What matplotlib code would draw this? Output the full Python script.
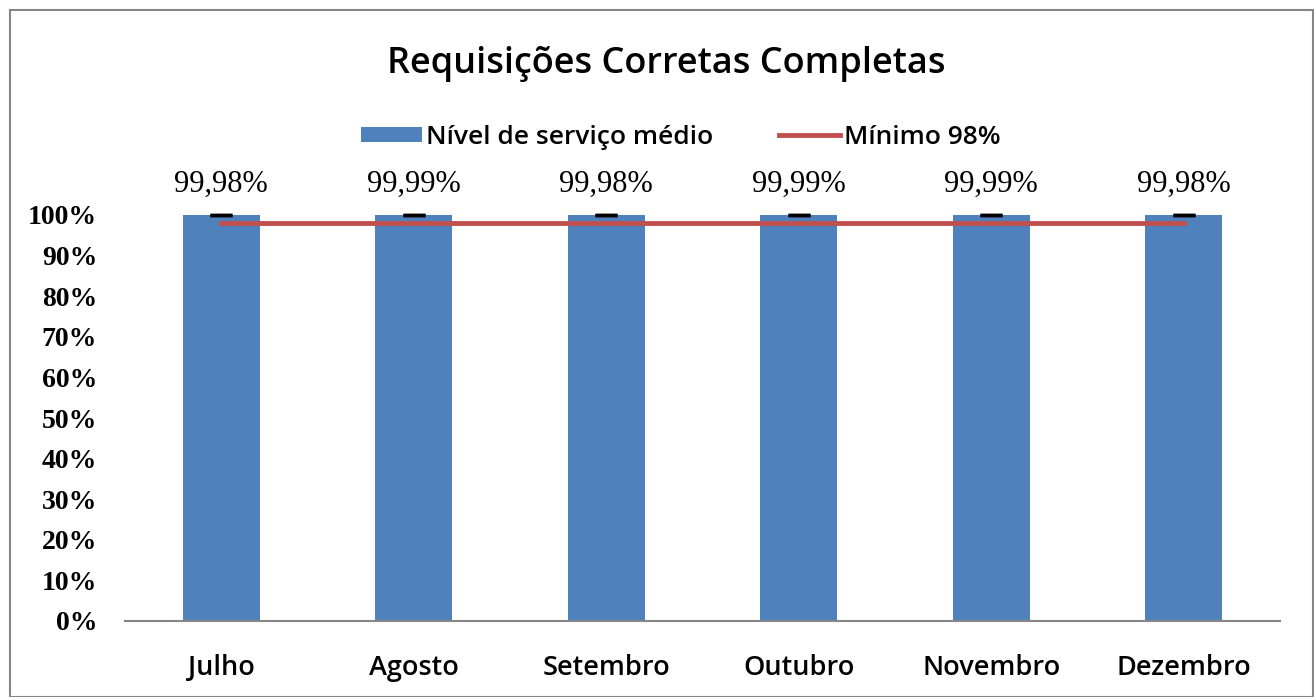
import numpy as np
import matplotlib
matplotlib.use("Agg")
import matplotlib.pyplot as plt
from matplotlib.patches import Rectangle

meses = ["Julho", "Agosto", "Setembro", "Outubro", "Novembro", "Dezembro"]
nivel = [0.9998, 0.9999, 0.9998, 0.9999, 0.9999, 0.9998]
minimo = [0.98, 0.98, 0.98, 0.98, 0.98, 0.98]
rotulos = ["99,98%", "99,99%", "99,98%", "99,99%", "99,99%", "99,98%"]
yticks = [0, 0.1, 0.2, 0.3, 0.4, 0.5, 0.6, 0.7, 0.8, 0.9, 1.0]

W, H = 1314, 697
fig = plt.figure(figsize=(W / 100, H / 100), dpi=100)
ax = fig.add_axes([125 / W, 1 - 621 / H, (1280 - 125) / W, (621 - 215) / H])

sans = "Open Sans"
serif = "Liberation Serif"

x = np.arange(len(meses))
barras = ax.bar(x, nivel, width=0.4, color="#4F81BD", zorder=2)
ax.errorbar(x, nivel, yerr=0.0002, fmt="none", ecolor="black", elinewidth=1.5,
            capsize=8, capthick=2.5, clip_on=False, zorder=3)
linha, = ax.plot(x, minimo, color="#C0504D", lw=3.5, zorder=4)

for xi, v, t in zip(x, nivel, rotulos):
    ax.annotate(t, (xi, 1.0), xytext=(0, 12), textcoords="offset points",
                ha="center", va="bottom", fontsize=22, family=serif)

ax.set_xlim(-0.5, len(meses) - 0.5)
ax.set_ylim(0, 1.0)
ax.set_yticks(yticks)
ax.set_yticklabels([f"{int(round(t * 100))}%" for t in yticks], family=serif,
                   fontsize=20, fontweight="bold")
ax.set_xticks(x)
ax.set_xticklabels(meses, family=sans, fontsize=19.5, fontweight="semibold")
ax.tick_params(axis="y", length=0, pad=20)
ax.tick_params(axis="x", length=0, pad=24)
for s in ["top", "right", "left"]:
    ax.spines[s].set_visible(False)
ax.spines["bottom"].set_color("#868686")
ax.spines["bottom"].set_linewidth(1.5)

fig.text(666 / W, 1 - 64 / H, "Requisições Corretas Completas", ha="center", va="center",
         fontsize=26, family=sans, fontweight="semibold")

fig.legend([barras, linha], ["Nível de serviço médio", "Mínimo 98%"],
           loc="center", bbox_to_anchor=(681 / W, 1 - 137 / H), ncol=2, frameon=False,
           prop={"family": sans, "size": 19, "weight": "semibold"}, handlelength=2.3,
           handleheight=0.5, handletextpad=0.15, columnspacing=2.5)

fig.patches.append(Rectangle((10 / W, 0), 1 - 11 / W, 1 - 10 / H, transform=fig.transFigure,
                             fill=False, edgecolor="#868686", lw=1.5))

fig.savefig("out.png", dpi=100)
